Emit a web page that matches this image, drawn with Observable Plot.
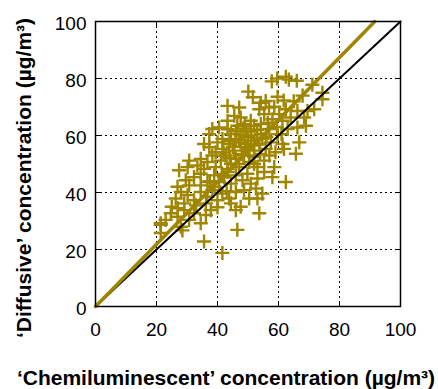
<!DOCTYPE html>
<html><head><meta charset="utf-8">
<script src="https://cdn.jsdelivr.net/npm/d3@7"></script>
<script src="https://cdn.jsdelivr.net/npm/@observablehq/plot@0.6"></script>
<style>body{margin:0;background:#fff} svg{display:block}</style>
</head><body><div id="chart"></div>
<script>
// 'Chemiluminescent' (x) and 'Diffusive' (y) concentrations, µg/m³
const chemi = [
  57.8, 59.6, 62.4, 63.4, 66.0, 71.1,
  50.1, 51.6, 59.7, 61.7, 74.4, 74.4, 67.9, 54.2, 55.8, 65.0, 43.3, 47.1,
  45.5, 47.6, 43.3, 53.7, 56.9, 55.3, 60.2, 62.4, 64.0, 69.5, 71.7, 68.4, 50.9, 58.0, 61.3, 66.2, 58.6,
  40.5, 38.3, 37.3, 43.3, 46.5, 49.3, 52.0, 54.2, 57.0, 59.7, 63.0, 66.2, 69.0, 51.0, 47.6, 44.4, 54.2,
  35.6, 37.3, 40.0, 41.6, 43.8, 45.5, 47.6, 49.3, 51.0, 52.0, 53.7, 55.8, 57.5, 61.3, 61.8, 66.8, 65.7,
  50.0, 46.0, 41.6, 39.4, 54.7, 59.0,
  30.7, 30.2, 27.4, 33.4, 34.5, 36.7, 38.3, 39.4, 41.1, 42.7, 44.4, 46.0, 47.1, 48.7, 50.4, 52.0,
  53.1, 55.3, 57.0, 58.6, 43.3, 35.6,
  32.3, 29.6, 34.5, 36.7, 38.9, 40.5, 42.2, 44.4, 46.0, 48.2, 49.8, 50.9, 53.1, 58.0, 62.4, 26.9,
  55.3, 43.3, 30.7, 34.5,
  28.0, 26.3, 30.2, 32.3, 29.1, 34.5, 36.7, 38.3, 40.0, 41.6, 43.8, 46.0, 47.6, 50.4, 53.1, 54.7,
  52.6, 48.7, 44.4, 36.2,
  24.7, 23.0, 21.4, 26.9, 30.7, 29.1, 32.3, 34.5, 36.2, 37.8, 46.0, 53.7, 40.0,
  21.4, 21.4, 28.5, 28.0, 46.5, 35.6, 41.6,
  45.0, 47.0, 48.0, 49.0, 50.0, 51.0, 52.0, 53.0, 46.0, 44.0, 48.5, 50.5, 42.0, 44.0, 47.0, 52.0,
  54.0, 56.0, 53.0, 49.0,
  39.0, 41.5, 37.5, 43.0, 56.5, 59.5, 61.0, 33.0, 27.0, 25.0
];
const diffusive = [
  79.0, 80.0, 80.6, 79.6, 79.2, 77.8,
  75.4, 73.4, 73.6, 72.3, 75.0, 72.7, 74.0, 71.5, 72.1, 72.0, 70.4, 69.8,
  66.9, 66.3, 65.2, 69.2, 69.8, 67.5, 67.5, 69.2, 66.3, 68.6, 69.2, 66.3, 65.2, 65.7, 65.2, 68.6, 70.1,
  62.8, 62.3, 60.5, 62.2, 63.4, 61.7, 63.4, 64.0, 62.3, 60.5, 62.3, 62.8, 63.4, 60.0, 60.0, 60.5, 60.5,
  57.0, 55.9, 57.6, 55.3, 57.0, 54.7, 57.6, 55.9, 58.2, 54.7, 57.0, 55.3, 57.6, 57.0, 55.3, 57.6, 53.6,
  59.4, 58.8, 58.8, 54.1, 58.8, 54.1,
  51.2, 48.9, 47.8, 49.5, 51.8, 50.7, 53.0, 48.9, 51.2, 53.0, 50.1, 51.8, 48.9, 53.0, 50.7, 52.4,
  48.9, 51.2, 53.0, 48.9, 48.3, 48.3,
  45.4, 44.3, 46.6, 43.7, 46.0, 43.7, 45.4, 43.1, 46.0, 44.3, 46.6, 43.1, 44.9, 45.4, 43.7, 42.0,
  47.2, 47.2, 42.5, 42.5,
  40.2, 37.9, 39.1, 37.3, 36.2, 40.2, 38.5, 40.8, 37.3, 39.6, 37.9, 40.2, 35.0, 37.9, 37.9, 39.6,
  41.4, 40.8, 36.2, 36.2,
  32.7, 30.4, 29.2, 31.5, 30.4, 33.8, 32.7, 29.2, 32.1, 33.8, 33.8, 32.7, 34.8,
  28.7, 25.8, 26.7, 28.0, 26.9, 22.8, 18.8,
  56.0, 58.5, 53.5, 57.0, 55.0, 61.5, 56.5, 59.0, 61.5, 58.0, 62.5, 53.0, 54.0, 52.0, 50.0, 50.0,
  53.5, 59.5, 62.0, 64.0,
  42.0, 46.5, 44.0, 40.5, 64.5, 63.0, 60.5, 35.5, 34.5, 35.0
];
const axisTicks = [0, 20, 40, 60, 80, 100];
const gridTicks = [20, 40, 60, 80];
const xTitle = "‘Chemiluminescent’ concentration (µg/m³)";
const yTitle = "‘Diffusive’ concentration (µg/m³)";
const identityEnds = [0, 100];
const fitSlope = 1.092, fitIntercept = 0;

const points = chemi.map((x, i) => ({x, y: diffusive[i]}));
const idLine = identityEnds.map(v => ({x: v, y: v}));
const fitLine = [0, (100 - fitIntercept) / fitSlope].map(x => ({x, y: fitIntercept + fitSlope * x}));

const gold = "#a08600";
const plot = Plot.plot({
  width: 438, height: 389,
  marginLeft: 95, marginRight: 38, marginTop: 21, marginBottom: 83,
  style: {fontFamily: "'Liberation Sans', Arial, sans-serif", background: "#fff", color: "black"},
  x: {domain: [0, 100]},
  y: {domain: [0, 100]},
  marks: [
    Plot.gridX(gridTicks, {stroke: "black", strokeOpacity: 1, strokeDasharray: "2,3", strokeWidth: 1}),
    Plot.gridY(gridTicks, {stroke: "black", strokeOpacity: 1, strokeDasharray: "2,3", strokeWidth: 1}),
    Plot.dot(points, {x: "x", y: "y", symbol: "plus", r: 4.6, stroke: gold, strokeWidth: 2.4}),
    Plot.line(idLine, {x: "x", y: "y", stroke: "black", strokeWidth: 2}),
    Plot.line(fitLine, {x: "x", y: "y", stroke: gold, strokeWidth: 3.5}),
    Plot.axisX(axisTicks, {anchor: "bottom", tickSize: 5, dy: -5, text: null, label: null}),
    Plot.axisX(axisTicks, {anchor: "top", tickSize: 5, dy: 5, text: null, label: null}),
    Plot.axisY(axisTicks, {anchor: "left", tickSize: 5, dx: 5, text: null, label: null}),
    Plot.axisY(axisTicks, {anchor: "right", tickSize: 5, dx: -5, text: null, label: null}),
    Plot.axisX(axisTicks, {anchor: "bottom", tickSize: 0, tickPadding: 16, fontSize: 19, label: null}),
    Plot.axisY(axisTicks, {anchor: "left", tickSize: 0, tickPadding: 9, dy: 2, fontSize: 19, label: null}),
    Plot.frame({stroke: "black", strokeWidth: 1.5}),
    Plot.text([xTitle], {text: d => d, frameAnchor: "bottom", textAnchor: "middle", dx: -22, dy: 72, fontSize: 21, fontWeight: "bold", lineAnchor: "middle", fill: "black"}),
    Plot.text([yTitle], {text: d => d, frameAnchor: "left", textAnchor: "middle", rotate: -90, dx: -71, dy: 14, fontSize: 21, fontWeight: "bold", lineAnchor: "middle", fill: "black"})
  ]
});
document.getElementById("chart").append(plot);
</script>
</body></html>
